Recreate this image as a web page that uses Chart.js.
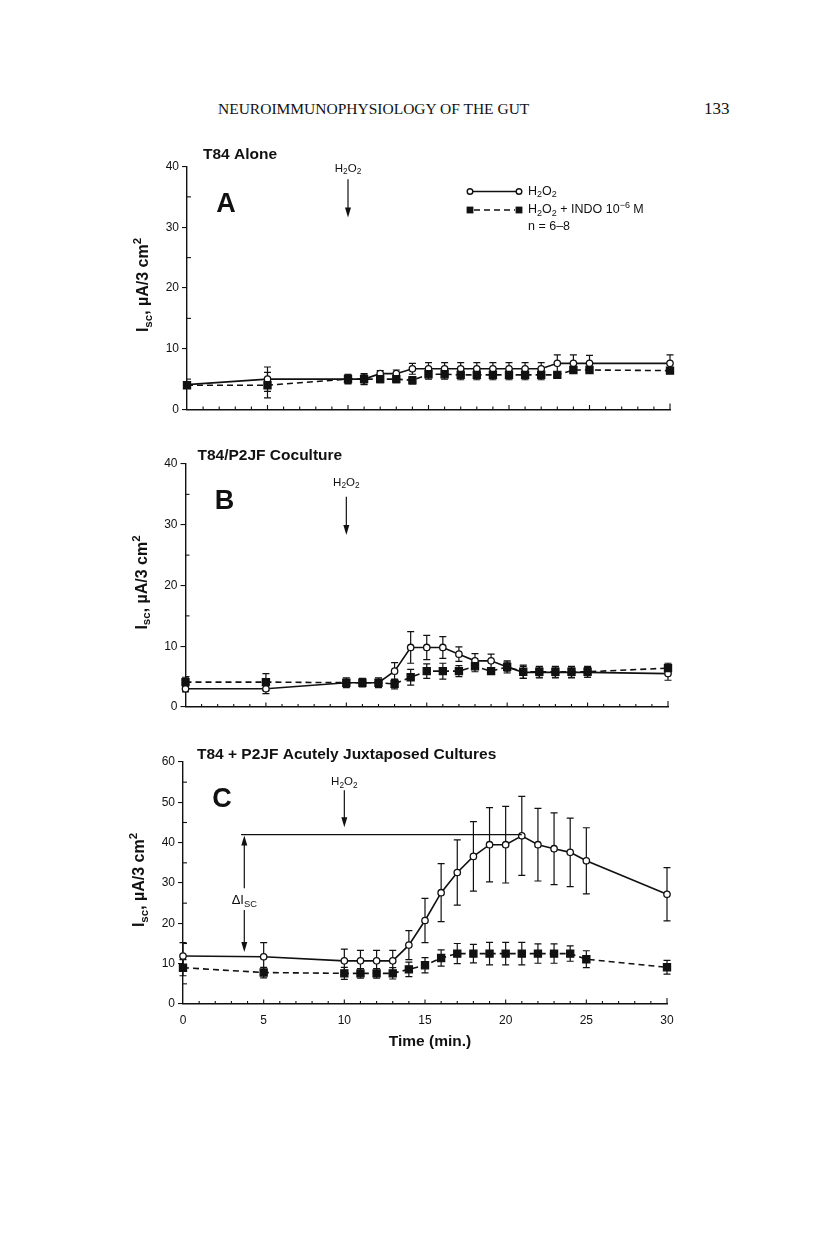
<!DOCTYPE html>
<html>
<head>
<meta charset="utf-8">
<script src="https://cdn.jsdelivr.net/npm/chart.js@4.4.1/dist/chart.umd.min.js"></script>
<style>
  body { margin: 0; background: #fff; width: 816px; height: 1255px; position: relative; overflow: hidden; }
  canvas { position: absolute; left: 0; }
  .hdr { position: absolute; font-family: "Liberation Serif", "DejaVu Serif", serif; color: #111; white-space: nowrap; }
  #hdr { left: 218px; top: 100px; font-size: 15.5px; }
  #pg { left: 704px; top: 99px; font-size: 17px; }
</style>
</head>
<body>
<div id="hdr" class="hdr">NEUROIMMUNOPHYSIOLOGY OF THE GUT</div>
<div id="pg" class="hdr">133</div>
<canvas id="chartA" width="816" height="290" style="top:140px"></canvas>
<canvas id="chartB" width="816" height="290" style="top:440px"></canvas>
<canvas id="chartC" width="816" height="320" style="top:740px"></canvas>
<script>
// time points (min)
const times = [0, 5, 10, 11, 12, 13, 14, 15, 16, 17, 18, 19, 20, 21, 22, 23, 24, 25, 30];

// panel A - T84 alone
const aH2O2 = [4.1, 5.0, 5.0, 5.0, 5.9, 5.9, 6.7, 6.7, 6.7, 6.7, 6.7, 6.7, 6.7, 6.7, 6.7, 7.6, 7.6, 7.6, 7.6];
const aH2O2Err = [0.3, 2.0, 0.7, 0.8, 0.5, 0.6, 0.9, 1.0, 1.0, 1.0, 1.0, 1.0, 1.0, 1.0, 1.0, 1.4, 1.4, 1.3, 1.4];
const aIndo = [4.0, 4.0, 5.0, 5.0, 5.0, 5.0, 4.8, 5.8, 5.8, 5.7, 5.7, 5.7, 5.7, 5.7, 5.7, 5.7, 6.5, 6.5, 6.4];
const aIndoErr = [0.3, 2.1, 0.8, 0.9, 0.6, 0.6, 0.6, 0.8, 0.8, 0.8, 0.8, 0.8, 0.8, 0.8, 0.8, 0.3, 0.5, 0.5, 0.4];

// panel B - T84/P2JF coculture
const bH2O2 = [3.0, 3.0, 4.0, 4.0, 4.0, 5.9, 9.8, 9.8, 9.8, 8.7, 7.6, 7.6, 6.6, 5.7, 5.7, 5.7, 5.7, 5.7, 5.5];
const bH2O2Err = [0.5, 0.8, 0.5, 0.5, 0.5, 1.4, 2.6, 2.0, 1.8, 1.2, 1.2, 1.1, 1.0, 1.0, 0.9, 0.9, 0.9, 0.8, 1.1];
const bIndo = [4.1, 4.1, 4.0, 4.0, 4.0, 3.8, 4.9, 5.9, 5.9, 5.9, 6.7, 5.9, 6.6, 5.8, 5.8, 5.8, 5.8, 5.8, 6.4];
const bIndoErr = [0.8, 1.4, 0.8, 0.7, 0.8, 0.8, 1.3, 1.2, 1.3, 0.9, 0.9, 0.5, 0.8, 1.1, 0.9, 0.9, 0.9, 0.9, 0.8];

// panel C - acutely juxtaposed cultures
const cH2O2 = [11.9, 11.7, 10.7, 10.7, 10.7, 10.7, 14.6, 20.7, 27.6, 32.6, 36.6, 39.5, 39.5, 41.7, 39.5, 38.5, 37.6, 35.5, 27.2];
const cH2O2Err = [3.3, 3.5, 2.9, 2.6, 2.6, 2.6, 3.6, 5.5, 7.2, 8.1, 8.6, 9.2, 9.5, 9.8, 9.0, 8.9, 8.5, 8.2, 6.6];
const cIndo = [9.0, 7.8, 7.6, 7.6, 7.6, 7.6, 8.6, 9.6, 11.4, 12.5, 12.5, 12.5, 12.5, 12.5, 12.5, 12.5, 12.5, 11.1, 9.1];
const cIndoErr = [2.0, 1.3, 1.5, 1.2, 1.2, 1.4, 1.8, 1.9, 2.0, 2.5, 2.3, 2.8, 2.8, 2.8, 2.4, 2.4, 1.9, 2.1, 1.7];

const xLabels = [0, 5, 10, 15, 20, 25, 30];
const yMaxAB = 40;
const yMaxC = 60;

const ink = "#111";
const sans = '"Liberation Sans", Arial, Helvetica, sans-serif';

// text with sub/superscript parts: [[text, "sub"|"sup"|""], ...]
function richWidth(ctx, parts, size, weight) {
  let w = 0;
  parts.forEach(([t, mode]) => {
    ctx.font = `${weight} ${mode ? size * 0.72 : size}px ${sans}`;
    w += ctx.measureText(t).width;
  });
  return w;
}

function richText(ctx, parts, x, y, size, weight = "normal", align = "left") {
  let cx = align === "center" ? x - richWidth(ctx, parts, size, weight) / 2 : x;
  ctx.textBaseline = "middle";
  ctx.textAlign = "left";
  parts.forEach(([t, mode]) => {
    const s = mode ? size * 0.72 : size;
    ctx.font = `${weight} ${s}px ${sans}`;
    const dy = mode === "sub" ? size * 0.28 : mode === "sup" ? -size * 0.38 : 0;
    ctx.fillText(t, cx, y + dy);
    cx += ctx.measureText(t).width;
  });
}

function arrow(ctx, x, y1, y2) {
  const dir = y2 > y1 ? 1 : -1;
  ctx.beginPath();
  ctx.moveTo(x, y1);
  ctx.lineTo(x, y2 - dir * 4);
  ctx.stroke();
  ctx.beginPath();
  ctx.moveTo(x, y2);
  ctx.lineTo(x - 3, y2 - dir * 10);
  ctx.lineTo(x + 3, y2 - dir * 10);
  ctx.closePath();
  ctx.fill();
}

const h2o2Parts = [["H", ""], ["2", "sub"], ["O", ""], ["2", "sub"]];

const errorBars = {
  id: "errorBars",
  beforeDatasetsDraw(chart) {
    const { ctx } = chart;
    const xs = chart.scales.x;
    const ys = chart.scales.y;
    ctx.save();
    ctx.strokeStyle = ink;
    ctx.lineWidth = 1.2;
    chart.data.datasets.forEach((ds) => {
      ds.data.forEach((p, i) => {
        const e = ds.errs[i];
        if (!e) return;
        const x = xs.getPixelForValue(p.x);
        const yt = ys.getPixelForValue(p.y + e);
        const yb = ys.getPixelForValue(p.y - e);
        ctx.beginPath();
        ctx.moveTo(x, yt);
        ctx.lineTo(x, yb);
        ctx.moveTo(x - 3.5, yt);
        ctx.lineTo(x + 3.5, yt);
        ctx.moveTo(x - 3.5, yb);
        ctx.lineTo(x + 3.5, yb);
        ctx.stroke();
      });
    });
    ctx.restore();
  },
};

const decor = {
  id: "decor",
  afterDraw(chart, args, opts) {
    const { ctx, chartArea: a } = chart;
    const xs = chart.scales.x;
    const ys = chart.scales.y;
    ctx.save();
    ctx.fillStyle = ink;
    ctx.strokeStyle = ink;

    // inner ticks on x axis, every minute
    ctx.lineWidth = 1.1;
    for (let t = 1; t <= 30; t++) {
      const x = xs.getPixelForValue(t);
      const len = t === 30 ? 6 : t % 5 === 0 ? 4.5 : 3;
      ctx.beginPath();
      ctx.moveTo(x, a.bottom);
      ctx.lineTo(x, a.bottom - len);
      ctx.stroke();
    }
    // minor y ticks inside
    for (let v = 5; v < ys.max; v += 10) {
      const y = ys.getPixelForValue(v);
      ctx.beginPath();
      ctx.moveTo(a.left, y);
      ctx.lineTo(a.left + 4, y);
      ctx.stroke();
    }

    // title + panel letter
    ctx.textBaseline = "middle";
    ctx.font = `bold 15.5px ${sans}`;
    ctx.fillText(opts.title, a.left + opts.titleDx, a.top + opts.titleDy);
    ctx.font = `bold 27px ${sans}`;
    ctx.textAlign = "center";
    ctx.fillText(opts.letter, a.left + 39, a.top + 38);

    // y axis title, rotated
    ctx.save();
    ctx.translate(a.left - 43, (a.top + a.bottom) / 2 - 3);
    ctx.rotate(-Math.PI / 2);
    richText(ctx, [["I", ""], ["sc", "sub"], [", \u00b5A/3 cm", ""], ["2", "sup"]], 0, 0, 16, "bold", "center");
    ctx.restore();

    // H2O2 addition arrow
    const ax = xs.getPixelForValue(opts.addAt);
    richText(ctx, h2o2Parts, ax, ys.getPixelForValue(opts.textY), 11.5, "normal", "center");
    ctx.lineWidth = 1.2;
    arrow(ctx, ax, ys.getPixelForValue(opts.arrowFrom), ys.getPixelForValue(opts.arrowTo));

    if (opts.legend) {
      const lx = a.left + 283, rx = a.left + 332, tx = a.left + 341;
      const y1 = a.top + 25, y2 = a.top + 43.5, y3 = a.top + 60;
      ctx.lineWidth = 1.4;
      ctx.beginPath();
      ctx.moveTo(lx, y1);
      ctx.lineTo(rx, y1);
      ctx.stroke();
      [lx, rx].forEach((x) => {
        ctx.beginPath();
        ctx.arc(x, y1, 2.8, 0, Math.PI * 2);
        ctx.fillStyle = "#fff";
        ctx.fill();
        ctx.stroke();
      });
      ctx.fillStyle = ink;
      ctx.setLineDash([6, 4]);
      ctx.beginPath();
      ctx.moveTo(lx + 4, y2);
      ctx.lineTo(rx - 4, y2);
      ctx.stroke();
      ctx.setLineDash([]);
      [lx, rx].forEach((x) => ctx.fillRect(x - 3.4, y2 - 3.4, 6.8, 6.8));
      richText(ctx, h2o2Parts, tx, y1, 12.5);
      richText(ctx, [...h2o2Parts, [" + INDO 10", ""], ["\u22126", "sup"], [" M", ""]], tx, y2, 12.5);
      richText(ctx, [["n = 6\u20138", ""]], tx, y3, 12.5);
    }

    if (opts.delta) {
      const d = opts.delta;
      const dx = xs.getPixelForValue(d.x);
      const yl = ys.getPixelForValue(d.level);
      ctx.lineWidth = 1.4;
      ctx.beginPath();
      ctx.moveTo(xs.getPixelForValue(d.lineFrom), yl);
      ctx.lineTo(xs.getPixelForValue(d.lineTo), yl);
      ctx.stroke();
      ctx.lineWidth = 1.2;
      arrow(ctx, dx, ys.getPixelForValue(d.upFrom), yl + 1);
      arrow(ctx, dx, ys.getPixelForValue(d.downFrom), ys.getPixelForValue(d.downTo));
      richText(ctx, [["\u0394I", ""], ["SC", "sub"]], dx, ys.getPixelForValue(d.labelY), 13, "normal", "center");
    }

    if (opts.xTitle) {
      ctx.font = `bold 15.5px ${sans}`;
      ctx.textAlign = "center";
      ctx.textBaseline = "middle";
      ctx.fillText(opts.xTitle, (a.left + a.right) / 2 + 5, a.bottom + 37.5);
    }
    ctx.restore();
  },
};

function makeSeries(label, vals, errs, filled) {
  return {
    label,
    data: times.map((t, i) => ({ x: t, y: vals[i] })),
    errs,
    showLine: true,
    borderColor: ink,
    borderWidth: 1.6,
    borderDash: filled ? [6, 4] : [],
    pointStyle: filled ? "rect" : "circle",
    pointRadius: filled ? 5 : 3.2,
    pointBorderWidth: 1.3,
    pointBorderColor: ink,
    pointBackgroundColor: filled ? ink : "#fff",
    tension: 0,
    clip: false,
    order: filled ? 0 : 1,
  };
}

function makePanel(id, h2o2, h2o2Err, indo, indoErr, yMax, box, decorOpts) {
  const canvas = document.getElementById(id);
  const top = parseFloat(canvas.style.top);
  const showX = !!decorOpts.xTitle;
  const xh = showX ? 50 : 2;
  const yw = 30;
  return new Chart(canvas, {
    type: "scatter",
    data: {
      datasets: [
        makeSeries("H2O2", h2o2, h2o2Err, false),
        makeSeries("H2O2 + INDO", indo, indoErr, true),
      ],
    },
    options: {
      responsive: false,
      animation: false,
      layout: {
        padding: {
          left: box.left - yw,
          right: 816 - box.right,
          top: box.top - top,
          bottom: canvas.height - (box.bottom - top) - xh,
        },
      },
      plugins: { legend: { display: false }, tooltip: { enabled: false }, decor: decorOpts },
      scales: {
        x: {
          type: "linear",
          min: 0,
          max: 30,
          afterFit: (s) => { s.height = xh; },
          afterBuildTicks: (s) => { s.ticks = xLabels.map((v) => ({ value: v })); },
          ticks: {
            display: showX,
            padding: 9,
            color: ink,
            font: { family: sans, size: 12 },
          },
          grid: { display: false, drawTicks: false },
          border: { display: true, color: ink, width: 1.4 },
        },
        y: {
          min: 0,
          max: yMax,
          afterFit: (s) => { s.width = yw; },
          ticks: {
            stepSize: 10,
            padding: 3,
            color: ink,
            font: { family: sans, size: 12 },
          },
          grid: { drawOnChartArea: false, drawTicks: true, tickLength: 5, color: ink, lineWidth: 1.1 },
          border: { display: true, color: ink, width: 1.4 },
        },
      },
    },
    plugins: [errorBars, decor],
  });
}

makePanel("chartA", aH2O2, aH2O2Err, aIndo, aIndoErr, yMaxAB,
  { left: 187, right: 670, top: 166.5, bottom: 409.5 },
  { title: "T84 Alone", titleDx: 16, titleDy: -11.5, letter: "A", addAt: 10, textY: 39.6, arrowFrom: 37.9, arrowTo: 31.6, legend: true });

makePanel("chartB", bH2O2, bH2O2Err, bIndo, bIndoErr, yMaxAB,
  { left: 185.5, right: 668, top: 464, bottom: 707 },
  { title: "T84/P2JF Coculture", titleDx: 12, titleDy: -8, letter: "B", addAt: 10, textY: 36.9, arrowFrom: 34.6, arrowTo: 28.3 });

makePanel("chartC", cH2O2, cH2O2Err, cIndo, cIndoErr, yMaxC,
  { left: 183, right: 667, top: 762, bottom: 1004 },
  { title: "T84 + P2JF Acutely Juxtaposed Cultures", titleDx: 14, titleDy: -7, letter: "C", addAt: 10, textY: 55, arrowFrom: 53, arrowTo: 43.8,
    delta: { x: 3.8, level: 42, lineFrom: 3.6, lineTo: 21, upFrom: 28.7, downFrom: 23.3, downTo: 12.9, labelY: 25.7 },
    xTitle: "Time (min.)" });
</script>
</body>
</html>
